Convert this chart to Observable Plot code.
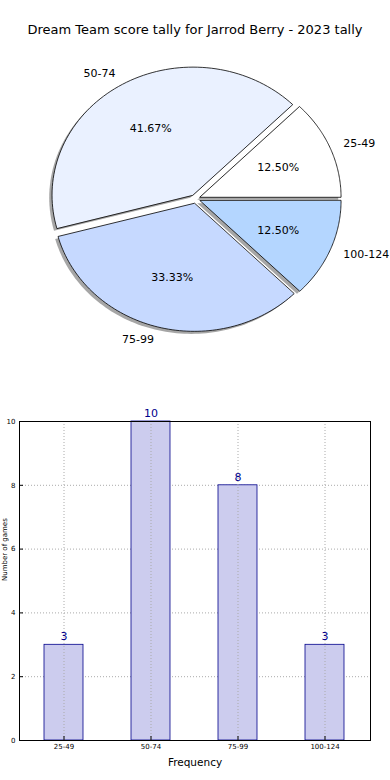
<!DOCTYPE html>
<html>
<head>
<meta charset="utf-8">
<script src="https://cdn.jsdelivr.net/npm/d3@7"></script>
<script src="https://cdn.jsdelivr.net/npm/@observablehq/plot@0.6"></script>
<style>
  html, body { margin: 0; padding: 0; background: #fff; }
  body { width: 390px; height: 780px; overflow: hidden; font-family: "DejaVu Sans", sans-serif; }
  #title { height: 28px; padding-top: 22px; line-height: 16px; font-size: 13px; text-align: center; color: #000; }
  svg { display: block; }
</style>
</head>
<body>
<div id="title">Dream Team score tally for Jarrod Berry - 2023 tally</div>
<div id="pie"></div>
<div id="bar"></div>
<script>
const titleText = "Dream Team score tally for Jarrod Berry - 2023 tally";
const categories = ["25-49", "50-74", "75-99", "100-124"];
const counts = [3, 10, 8, 3];
const pieColors = ["#ffffff", "#eaf1ff", "#c6d9ff", "#b4d6ff"];
const explode = [0.035, 0.035, 0.035, 0.035];
const xLabel = "Frequency";
const yLabel = "Number of games";
const yTicks = [0, 2, 4, 6, 8, 10];

document.getElementById("title").textContent = titleText;

// ---------- Pie ----------
const total = d3.sum(counts);
let acc = 0;
const slices = counts.map((c, i) => {
  const a0 = acc / total * 2 * Math.PI;
  acc += c;
  const a1 = acc / total * 2 * Math.PI;
  const mid = (a0 + a1) / 2;
  const ox = explode[i] * Math.cos(mid), oy = explode[i] * Math.sin(mid);
  const n = 80;
  const pts = [{x: ox, y: oy}].concat(d3.range(n + 1).map(k => {
    const t = a0 + (a1 - a0) * k / n;
    return {x: ox + Math.cos(t), y: oy + Math.sin(t)};
  }));
  return {
    name: categories[i], color: pieColors[i], pts,
    pct: (c / total * 100).toFixed(2) + "%",
    px: ox + 0.6 * Math.cos(mid), py: oy + 0.6 * Math.sin(mid),
    lx: ox + 1.1 * Math.cos(mid), ly: oy + 1.1 * Math.sin(mid),
    right: Math.cos(mid) > 0
  };
});
const shadowOff = 0.02;
const pieMarks = [];
slices.forEach(s => {
  pieMarks.push(Plot.line(s.pts.map(p => ({x: p.x - shadowOff, y: p.y - shadowOff})),
    {x: "x", y: "y", curve: "linear-closed", fill: "#4d4d4d", fillOpacity: 0.5, stroke: "none"}));
});
slices.forEach(s => {
  pieMarks.push(Plot.line(s.pts, {x: "x", y: "y", curve: "linear-closed", fill: s.color, stroke: "#000", strokeWidth: 0.8}));
});
pieMarks.push(Plot.text(slices, {x: "px", y: "py", text: "pct", fontSize: 11, fill: "#000"}));
pieMarks.push(Plot.text(slices.filter(s => s.right), {x: "lx", y: "ly", text: "name", textAnchor: "start", fontSize: 11, fill: "#000"}));
pieMarks.push(Plot.text(slices.filter(s => !s.right), {x: "lx", y: "ly", text: "name", textAnchor: "end", fontSize: 11, fill: "#000"}));

const W = 390, PH = 350, cx = 195, cy = 148.5, rx = 141, ry = 128;
const pie = Plot.plot({
  width: W, height: PH,
  margin: 0,
  style: {fontFamily: "DejaVu Sans, sans-serif", background: "white"},
  x: {domain: [-cx / rx, (W - cx) / rx], range: [0, W], axis: null},
  y: {domain: [-(PH - cy) / ry, cy / ry], range: [PH, 0], axis: null},
  marks: pieMarks
});
document.getElementById("pie").appendChild(pie);

// ---------- Bars ----------
const barData = categories.map((c, i) => ({cat: c, v: counts[i]}));
const bar = Plot.plot({
  width: 390, height: 380,
  marginLeft: 19, marginRight: 20, marginTop: 21, marginBottom: 40,
  style: {fontFamily: "DejaVu Sans, sans-serif", fontSize: "7px", background: "white", color: "#000"},
  x: {domain: categories, paddingInner: 0.55, paddingOuter: 0.275, align: 0.5, label: null},
  y: {domain: [0, 10], label: null},
  marks: [
    Plot.gridY(yTicks, {stroke: "#aaa", strokeOpacity: 1, strokeDasharray: "1,2"}),
    Plot.barY(barData, {x: "cat", y: "v", fill: "#ccccee", stroke: "#00008b", strokeWidth: 0.8}),
    Plot.gridX({stroke: "#aaa", strokeOpacity: 1, strokeDasharray: "1,2"}),
    Plot.text(barData, {x: "cat", y: "v", text: d => String(d.v), dy: -8, fontSize: 11, fill: "#00008b"}),
    Plot.axisY(yTicks, {tickSize: 0, tickPadding: 4, fontSize: 7, fill: "#000", label: null}),
    Plot.axisY(yTicks, {tickSize: -4, tickFormat: () => "", label: null}),
    Plot.axisX({tickSize: 0, tickPadding: 4, fontSize: 7, fill: "#000", label: null}),
    Plot.axisX({tickSize: -4, tickFormat: () => "", label: null}),
    Plot.text([yLabel], {frameAnchor: "left", dx: -15, rotate: -90, text: d => d, fontSize: 7, fill: "#000"}),
    Plot.text([xLabel], {frameAnchor: "bottom", dy: 25, text: d => d, fontSize: 10.5, fill: "#000"}),
    Plot.frame({stroke: "#000", strokeWidth: 1})
  ]
});
document.getElementById("bar").appendChild(bar);
</script>
</body>
</html>
